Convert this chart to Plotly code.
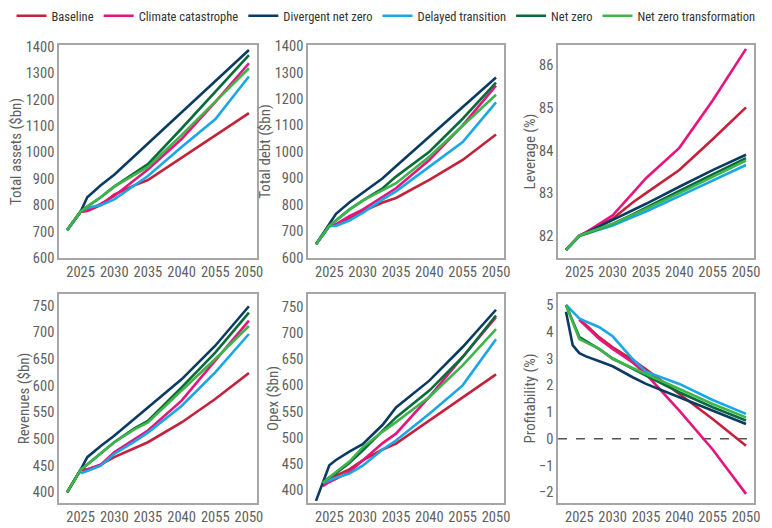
import plotly.graph_objects as go

YEARS = [2023, 2024, 2025, 2026, 2028, 2030, 2033, 2035, 2040, 2045, 2050]
TICK_VALS = [2025, 2030, 2035, 2040, 2045, 2050]
TICK_TEXT = ["2025", "2030", "2035", "2040", "2055", "2050"]

SCENARIOS = ["Baseline", "Climate catastrophe", "Divergent net zero",
             "Delayed transition", "Net zero", "Net zero transformation"]
COLORS = ["#c4213a", "#e6147f", "#0b3b63", "#1aa7e6", "#0a6b3a", "#3db54a"]

# Total assets ($bn)
assets_baseline = [705, 740, 775, 778, 800, 840, 875, 895, 980, 1065, 1148]
assets_climate = [705, 740, 775, 780, 805, 835, 895, 935, 1050, 1190, 1337]
assets_divergent = [705, 740, 775, 830, 875, 915, 986, 1034, 1150, 1268, 1387]
assets_delayed = [705, 740, 775, 790, 800, 822, 875, 910, 1020, 1125, 1287]
assets_netzero = [705, 740, 775, 795, 830, 870, 920, 955, 1090, 1228, 1368]
assets_nzt = [705, 740, 775, 795, 830, 870, 915, 945, 1065, 1190, 1318]

# Total debt ($bn)
debt_baseline = [650, 685, 719, 725, 750, 775, 808, 825, 894, 969, 1065]
debt_climate = [650, 685, 719, 725, 756, 781, 830, 862, 969, 1100, 1250]
debt_divergent = [650, 690, 730, 765, 808, 844, 900, 945, 1057, 1169, 1281]
debt_delayed = [650, 685, 719, 719, 740, 769, 820, 850, 944, 1037, 1187]
debt_netzero = [650, 685, 719, 740, 781, 815, 862, 906, 1000, 1125, 1262]
debt_nzt = [650, 685, 719, 740, 781, 815, 855, 881, 981, 1100, 1216]

# Leverage (%)
lev_baseline = [81.67, 81.84, 82.0, 82.08, 82.25, 82.4, 82.78, 83.0, 83.54, 84.26, 85.01]
lev_climate = [81.67, 81.84, 82.0, 82.08, 82.28, 82.48, 83.0, 83.35, 84.06, 85.17, 86.38]
lev_divergent = [81.67, 81.84, 82.0, 82.07, 82.22, 82.36, 82.6, 82.75, 83.15, 83.54, 83.9]
lev_delayed = [81.67, 81.84, 82.0, 82.05, 82.15, 82.24, 82.44, 82.57, 82.93, 83.3, 83.66]
lev_netzero = [81.67, 81.84, 82.0, 82.05, 82.16, 82.28, 82.5, 82.66, 83.05, 83.44, 83.82]
lev_nzt = [81.67, 81.84, 82.0, 82.06, 82.17, 82.28, 82.49, 82.63, 83.0, 83.38, 83.76]

# Revenues ($bn)
rev_baseline = [400, 421, 442, 443, 452, 466, 483, 494, 531, 575, 624]
rev_climate = [400, 421, 442, 443, 452, 475, 500, 516, 572, 647, 722]
rev_divergent = [400, 421, 442, 466, 487, 506, 538, 559, 612, 675, 749]
rev_delayed = [None, None, 436, 440, 450, 472, 495, 512, 562, 625, 697]
rev_netzero = [400, 421, 442, 452, 473, 494, 520, 534, 597, 662, 737]
rev_nzt = [400, 421, 442, 452, 473, 494, 518, 531, 591, 650, 712]

# Opex ($bn)
opex_baseline = [None, 413, 422, 428, 440, 457, 478, 489, 533, 578, 621]
opex_climate = [None, 408, 416, 422, 435, 457, 490, 508, 578, 654, 730]
opex_divergent = [380, 413, 448, 458, 474, 488, 525, 558, 609, 673, 744]
opex_delayed = [None, 414, 419, 424, 432, 447, 478, 495, 546, 600, 688]
opex_netzero = [None, 414, 425, 433, 452, 476, 515, 539, 590, 654, 733]
opex_nzt = [None, 414, 425, 435, 455, 482, 512, 530, 578, 638, 707]

# Profitability (%)
prof_baseline = [None, None, 4.45, 4.25, 3.79, 3.42, 2.95, 2.6, 1.67, 0.74, -0.26]
prof_climate = [None, None, 4.45, 4.2, 3.73, 3.36, 2.85, 2.42, 1.05, -0.4, -2.06]
prof_divergent = [4.75, 3.5, 3.2, 3.08, 2.9, 2.71, 2.3, 2.05, 1.55, 1.05, 0.55]
prof_delayed = [5.0, 4.75, 4.5, 4.38, 4.17, 3.83, 2.98, 2.51, 2.05, 1.45, 0.93]
prof_netzero = [5.0, 4.4, 3.8, 3.65, 3.35, 3.0, 2.6, 2.36, 1.74, 1.18, 0.68]
prof_nzt = [5.0, 4.35, 3.73, 3.6, 3.36, 2.98, 2.65, 2.42, 1.86, 1.3, 0.8]

panels = [
    ("Total assets ($bn)", [assets_baseline, assets_climate, assets_divergent, assets_delayed, assets_netzero, assets_nzt], [600, 1406], [600, 700, 800, 900, 1000, 1100, 1200, 1300, 1400]),
    ("Total debt ($bn)", [debt_baseline, debt_climate, debt_divergent, debt_delayed, debt_netzero, debt_nzt], [598, 1404], [600, 700, 800, 900, 1000, 1100, 1200, 1300, 1400]),
    ("Leverage (%)", [lev_baseline, lev_climate, lev_divergent, lev_delayed, lev_netzero, lev_nzt], [81.48, 86.47], [82, 83, 84, 85, 86]),
    ("Revenues ($bn)", [rev_baseline, rev_climate, rev_divergent, rev_delayed, rev_netzero, rev_nzt], [380, 772], [400, 450, 500, 550, 600, 650, 700, 750]),
    ("Opex ($bn)", [opex_baseline, opex_climate, opex_divergent, opex_delayed, opex_netzero, opex_nzt], [376, 774], [400, 450, 500, 550, 600, 650, 700, 750]),
    ("Profitability (%)", [prof_baseline, prof_climate, prof_divergent, prof_delayed, prof_netzero, prof_nzt], [-2.4, 5.41], [-2, -1, 0, 1, 2, 3, 4, 5]),
]

W, H = 772, 528
xdoms = [(59, 257), (308, 504), (558, 754)]
ydoms = [(45, 258), (294, 503)]

FONT = "Roboto Condensed, DejaVu Sans Condensed, sans-serif"
GREY = "#5f5f5f"

fig = go.Figure()
layout = dict(
    width=W, height=H, margin=dict(l=0, r=0, t=0, b=0, autoexpand=False),
    paper_bgcolor="white", plot_bgcolor="white",
    font=dict(family=FONT, color=GREY, size=14),
    showlegend=True,
    legend=dict(orientation="h", x=0.5, xanchor="center", y=0.998, yanchor="top",
                font=dict(size=12.5, color="#333333"), itemwidth=30,
                tracegroupgap=0, bgcolor="rgba(0,0,0,0)"),
)

for i, (title, series, yr, yticks) in enumerate(panels):
    r, c = divmod(i, 3)
    n = i + 1
    xa = "x" if n == 1 else f"x{n}"
    ya = "y" if n == 1 else f"y{n}"
    for j, vals in enumerate(series):
        fig.add_trace(go.Scatter(
            x=YEARS, y=vals, mode="lines", name=SCENARIOS[j],
            line=dict(color=COLORS[j], width=2.6), xaxis=xa, yaxis=ya,
            legendgroup=SCENARIOS[j], showlegend=(i == 0), connectgaps=False,
        ))
    x0, x1 = xdoms[c]
    y0, y1 = ydoms[r]
    layout[f"xaxis{'' if n == 1 else n}"] = dict(
        domain=[x0 / W, x1 / W], anchor=ya, range=[2021.8, 2051.2],
        tickvals=TICK_VALS, ticktext=TICK_TEXT, showgrid=False, zeroline=False,
        showline=True, mirror=True, linecolor="#a6a6a6", linewidth=1.5,
        ticks="", tickangle=0, tickfont=dict(size=14.5, color=GREY),
        automargin=False,
    )
    layout[f"yaxis{'' if n == 1 else n}"] = dict(
        domain=[1 - y1 / H, 1 - y0 / H], anchor=xa, range=yr,
        tickvals=yticks, showgrid=False, zeroline=False,
        showline=True, mirror=True, linecolor="#a6a6a6", linewidth=1.5,
        ticks="", tickfont=dict(size=14.5, color=GREY), automargin=False,
        title=dict(text=title, font=dict(size=15, color=GREY), standoff=0),
    )

fig.update_layout(**layout)

fig.add_shape(type="line", xref="x6 domain", yref="y6", x0=0, x1=1, y0=0, y1=0,
              line=dict(color="#555555", width=1.5, dash="dash"), layer="below")

fig.write_html("out.html", config={"displayModeBar": False},
               post_script="document.body.style.margin='0px';")
